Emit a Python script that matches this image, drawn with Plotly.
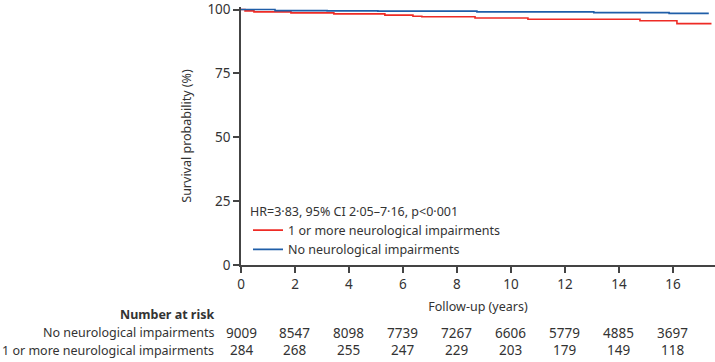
import plotly.graph_objects as go

# Kaplan-Meier step data
red_name = "1 or more neurological impairments"
red_t = [0, 0.15, 0.48, 1.85, 3.44, 5.33, 6.37, 6.70, 8.67, 10.63, 14.78, 16.15, 17.43]
red_s = [100, 99.5, 99.1, 98.7, 98.3, 97.8, 97.4, 97.2, 96.7, 96.2, 95.6, 94.5, 94.5]

blue_name = "No neurological impairments"
blue_t = [0, 1.26, 3.19, 5.07, 8.74, 13.07, 15.86, 17.33]
blue_s = [100, 99.6, 99.5, 99.4, 99.1, 98.8, 98.5, 98.5]

hr_text = "HR=3·83, 95% CI 2·05–7·16, p<0·001"

# Number at risk table
risk_times = [0, 2, 4, 6, 8, 10, 12, 14, 16]
risk_labels = ["No neurological impairments", "1 or more neurological impairments"]
risk_none = [9009, 8547, 8098, 7739, 7267, 6606, 5779, 4885, 3697]
risk_one = [284, 268, 255, 247, 229, 203, 179, 149, 118]

y_ticks = [0, 25, 50, 75, 100]
x_ticks = [0, 2, 4, 6, 8, 10, 12, 14, 16]

FONT = "Noto Sans"
TXT = "#333333"
AX = "#444444"

fig = go.Figure()
fig.add_trace(go.Scatter(x=red_t, y=red_s, mode="lines", line_shape="hv",
                         line=dict(color="#ee2b25", width=1.6), name=red_name))
fig.add_trace(go.Scatter(x=blue_t, y=blue_s, mode="lines", line_shape="hv",
                         line=dict(color="#1f5ea8", width=1.6), name=blue_name))

H_PLOT_TOP = 2
H_PLOT_BOT = 265
def py(ypx):
    return (H_PLOT_BOT - ypx) / (H_PLOT_BOT - H_PLOT_TOP)

def px(xpx):
    return (xpx - 241) / (715 - 241)

ann = []
ann.append(dict(text="<b>Number at risk</b>", xref="paper", yref="paper",
                x=px(216), y=py(315), xanchor="right", yanchor="middle",
                showarrow=False, font=dict(size=12.5, color=TXT, family=FONT)))
for lab, row, ypix in [(risk_labels[0], risk_none, 334), (risk_labels[1], risk_one, 352)]:
    ann.append(dict(text=lab, xref="paper", yref="paper", x=px(216), y=py(ypix),
                    xanchor="right", yanchor="middle", showarrow=False,
                    font=dict(size=12.5, color=TXT, family=FONT)))
    for t, v in zip(risk_times, row):
        ann.append(dict(text=str(v), xref="x", yref="paper", x=t, y=py(ypix),
                        xanchor="center", yanchor="middle", showarrow=False,
                        font=dict(size=13.5, color=TXT, family=FONT)))

fig.update_layout(
    width=715, height=362,
    margin=dict(l=241, r=0, t=H_PLOT_TOP, b=362 - H_PLOT_BOT),
    paper_bgcolor="white", plot_bgcolor="white",
    font=dict(family=FONT, size=12.5, color=TXT),
    showlegend=True,
    legend=dict(title=dict(text=hr_text, font=dict(size=12.5, color=TXT)),
                x=px(248), y=py(198), xanchor="left", yanchor="top",
                bgcolor="rgba(0,0,0,0)", font=dict(size=12.5, color=TXT),
                tracegroupgap=0, itemwidth=30),
    xaxis=dict(range=[0, 17.56], tickmode="array", tickvals=x_ticks,
               showgrid=False, zeroline=False, showline=True, linecolor=AX, linewidth=1.5,
               ticks="outside", ticklen=6, tickwidth=1.5, tickcolor=AX,
               tickfont=dict(size=13.5, color=TXT), ticklabeloverflow="allow",
               title=dict(text="Follow-up (years)", standoff=10, font=dict(size=12.5, color=TXT))),
    yaxis=dict(range=[0, 101], tickmode="array", tickvals=y_ticks,
               showgrid=False, zeroline=False, showline=True, linecolor=AX, linewidth=1.5,
               ticks="outside", ticklen=6, tickwidth=1.5, tickcolor=AX,
               tickfont=dict(size=13.5, color=TXT), ticklabeloverflow="allow",
               title=dict(text="Survival probability (%)", standoff=13, font=dict(size=12.5, color=TXT))),
    annotations=ann,
)

fig.write_html("out.html", config={"displayModeBar": False},
               post_script="document.body.style.margin='0';document.body.style.overflow='hidden';")
